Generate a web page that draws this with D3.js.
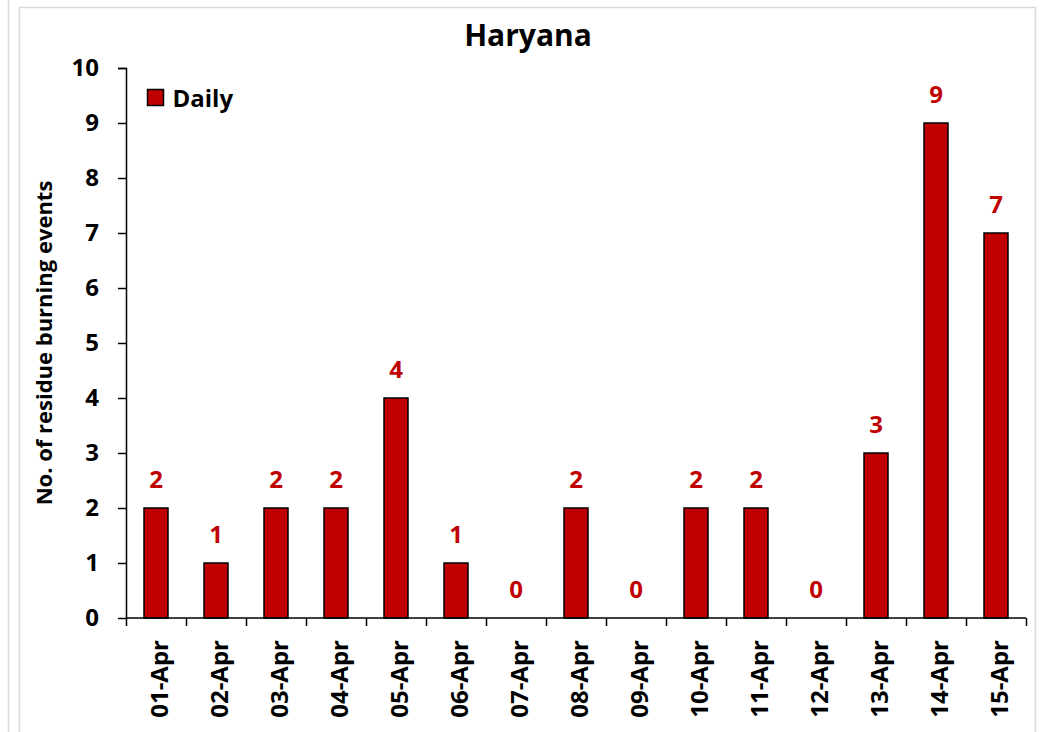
<!DOCTYPE html>
<html>
<head>
<meta charset="utf-8">
<script src="https://cdn.jsdelivr.net/npm/d3@7"></script>
<style>
  body { margin: 0; background: #fff; }
  text { font-family: "Open Sans", Lato, sans-serif; font-weight: bold; }
</style>
</head>
<body>
<div id="chart"></div>
<script>
// chart data
var dates = ["01-Apr", "02-Apr", "03-Apr", "04-Apr", "05-Apr", "06-Apr", "07-Apr", "08-Apr",
  "09-Apr", "10-Apr", "11-Apr", "12-Apr", "13-Apr", "14-Apr", "15-Apr"];
var daily = [2, 1, 2, 2, 4, 1, 0, 2, 0, 2, 2, 0, 3, 9, 7];
var yTicks = [0, 1, 2, 3, 4, 5, 6, 7, 8, 9, 10];

var svgWidth = 1043;
var svgHeight = 732;

var margin = { top: 68, right: 17, bottom: 114, left: 126 };
var width = svgWidth - margin.left - margin.right;
var height = svgHeight - margin.top - margin.bottom;

var svg = d3.select("#chart")
  .append("svg")
  .attr("width", svgWidth)
  .attr("height", svgHeight);

// outer frame lines
svg.append("line")
  .attr("x1", 8.5).attr("x2", 8.5).attr("y1", 0).attr("y2", svgHeight)
  .attr("stroke", "#d9d9d9").attr("stroke-width", 1.5);
svg.append("rect")
  .attr("x", 19.5).attr("y", 7.5)
  .attr("width", 1016).attr("height", svgHeight)
  .attr("fill", "none")
  .attr("stroke", "#d9d9d9").attr("stroke-width", 1.5);

var chartGroup = svg.append("g")
  .attr("transform", `translate(${margin.left}, ${margin.top})`);

var xScale = d3.scaleBand()
  .domain(dates)
  .range([0, width])
  .paddingInner(0.6)
  .paddingOuter(0.3);

var yScale = d3.scaleLinear()
  .domain([0, 10])
  .range([height, 0]);

// bars
chartGroup.selectAll(".bar")
  .data(daily)
  .enter()
  .append("rect")
  .attr("class", "bar")
  .attr("x", (d, i) => xScale(dates[i]))
  .attr("y", d => yScale(d))
  .attr("width", xScale.bandwidth())
  .attr("height", d => height - yScale(d))
  .attr("fill", "#C00000")
  .attr("stroke", "#000")
  .attr("stroke-width", 1.5);

// value labels
chartGroup.selectAll(".val")
  .data(daily)
  .enter()
  .append("text")
  .attr("class", "val")
  .attr("x", (d, i) => xScale(dates[i]) + xScale.bandwidth() / 2)
  .attr("y", d => yScale(d) - 20)
  .attr("text-anchor", "middle")
  .attr("fill", "#C00000")
  .style("font-size", "24px")
  .text(d => d);

// y axis
var leftAxis = d3.axisLeft(yScale)
  .tickValues(yTicks)
  .tickSize(8)
  .tickPadding(19)
  .tickFormat(d3.format("d"));

var yAxis = chartGroup.append("g").call(leftAxis);
yAxis.select(".domain").attr("stroke", "#000").attr("stroke-width", 1.5)
  .attr("d", `M-8,0.5H0.5V${height}`);
yAxis.selectAll(".tick line").attr("stroke-width", 1.5);
yAxis.selectAll(".tick text")
  .style("font-size", "24px")
  .attr("fill", "#000");

// x axis with tick marks between categories
var xAxis = chartGroup.append("g")
  .attr("transform", `translate(0, ${height})`);
xAxis.append("line")
  .attr("x1", 0).attr("x2", width)
  .attr("stroke", "#000").attr("stroke-width", 1.5);
var step = xScale.step();
xAxis.selectAll(".sep")
  .data(d3.range(dates.length + 1))
  .enter()
  .append("line")
  .attr("x1", i => i * step + 0.5)
  .attr("x2", i => i * step + 0.5)
  .attr("y1", 0)
  .attr("y2", 8)
  .attr("stroke", "#000").attr("stroke-width", 1.5);
xAxis.selectAll(".xlab")
  .data(dates)
  .enter()
  .append("text")
  .attr("class", "xlab")
  .attr("transform", d => `translate(${xScale(d) + xScale.bandwidth() / 2 + 12}, 22) rotate(-90)`)
  .attr("text-anchor", "end")
  .style("font-size", "24px")
  .attr("fill", "#000")
  .text(d => d);

// title
svg.append("text")
  .attr("x", 528)
  .attr("y", 46)
  .attr("text-anchor", "middle")
  .style("font-size", "30px")
  .text("Haryana");

// y axis label
svg.append("text")
  .attr("transform", `translate(52, 343) rotate(-90)`)
  .attr("text-anchor", "middle")
  .style("font-size", "22px")
  .text("No. of residue burning events");

// legend
var legend = svg.append("g").attr("transform", "translate(147.5, 89.5)");
legend.append("rect")
  .attr("width", 16).attr("height", 16)
  .attr("fill", "#C00000")
  .attr("stroke", "#000").attr("stroke-width", 1.5);
legend.append("text")
  .attr("x", 25).attr("y", 17)
  .style("font-size", "24px")
  .text("Daily");
</script>
</body>
</html>
